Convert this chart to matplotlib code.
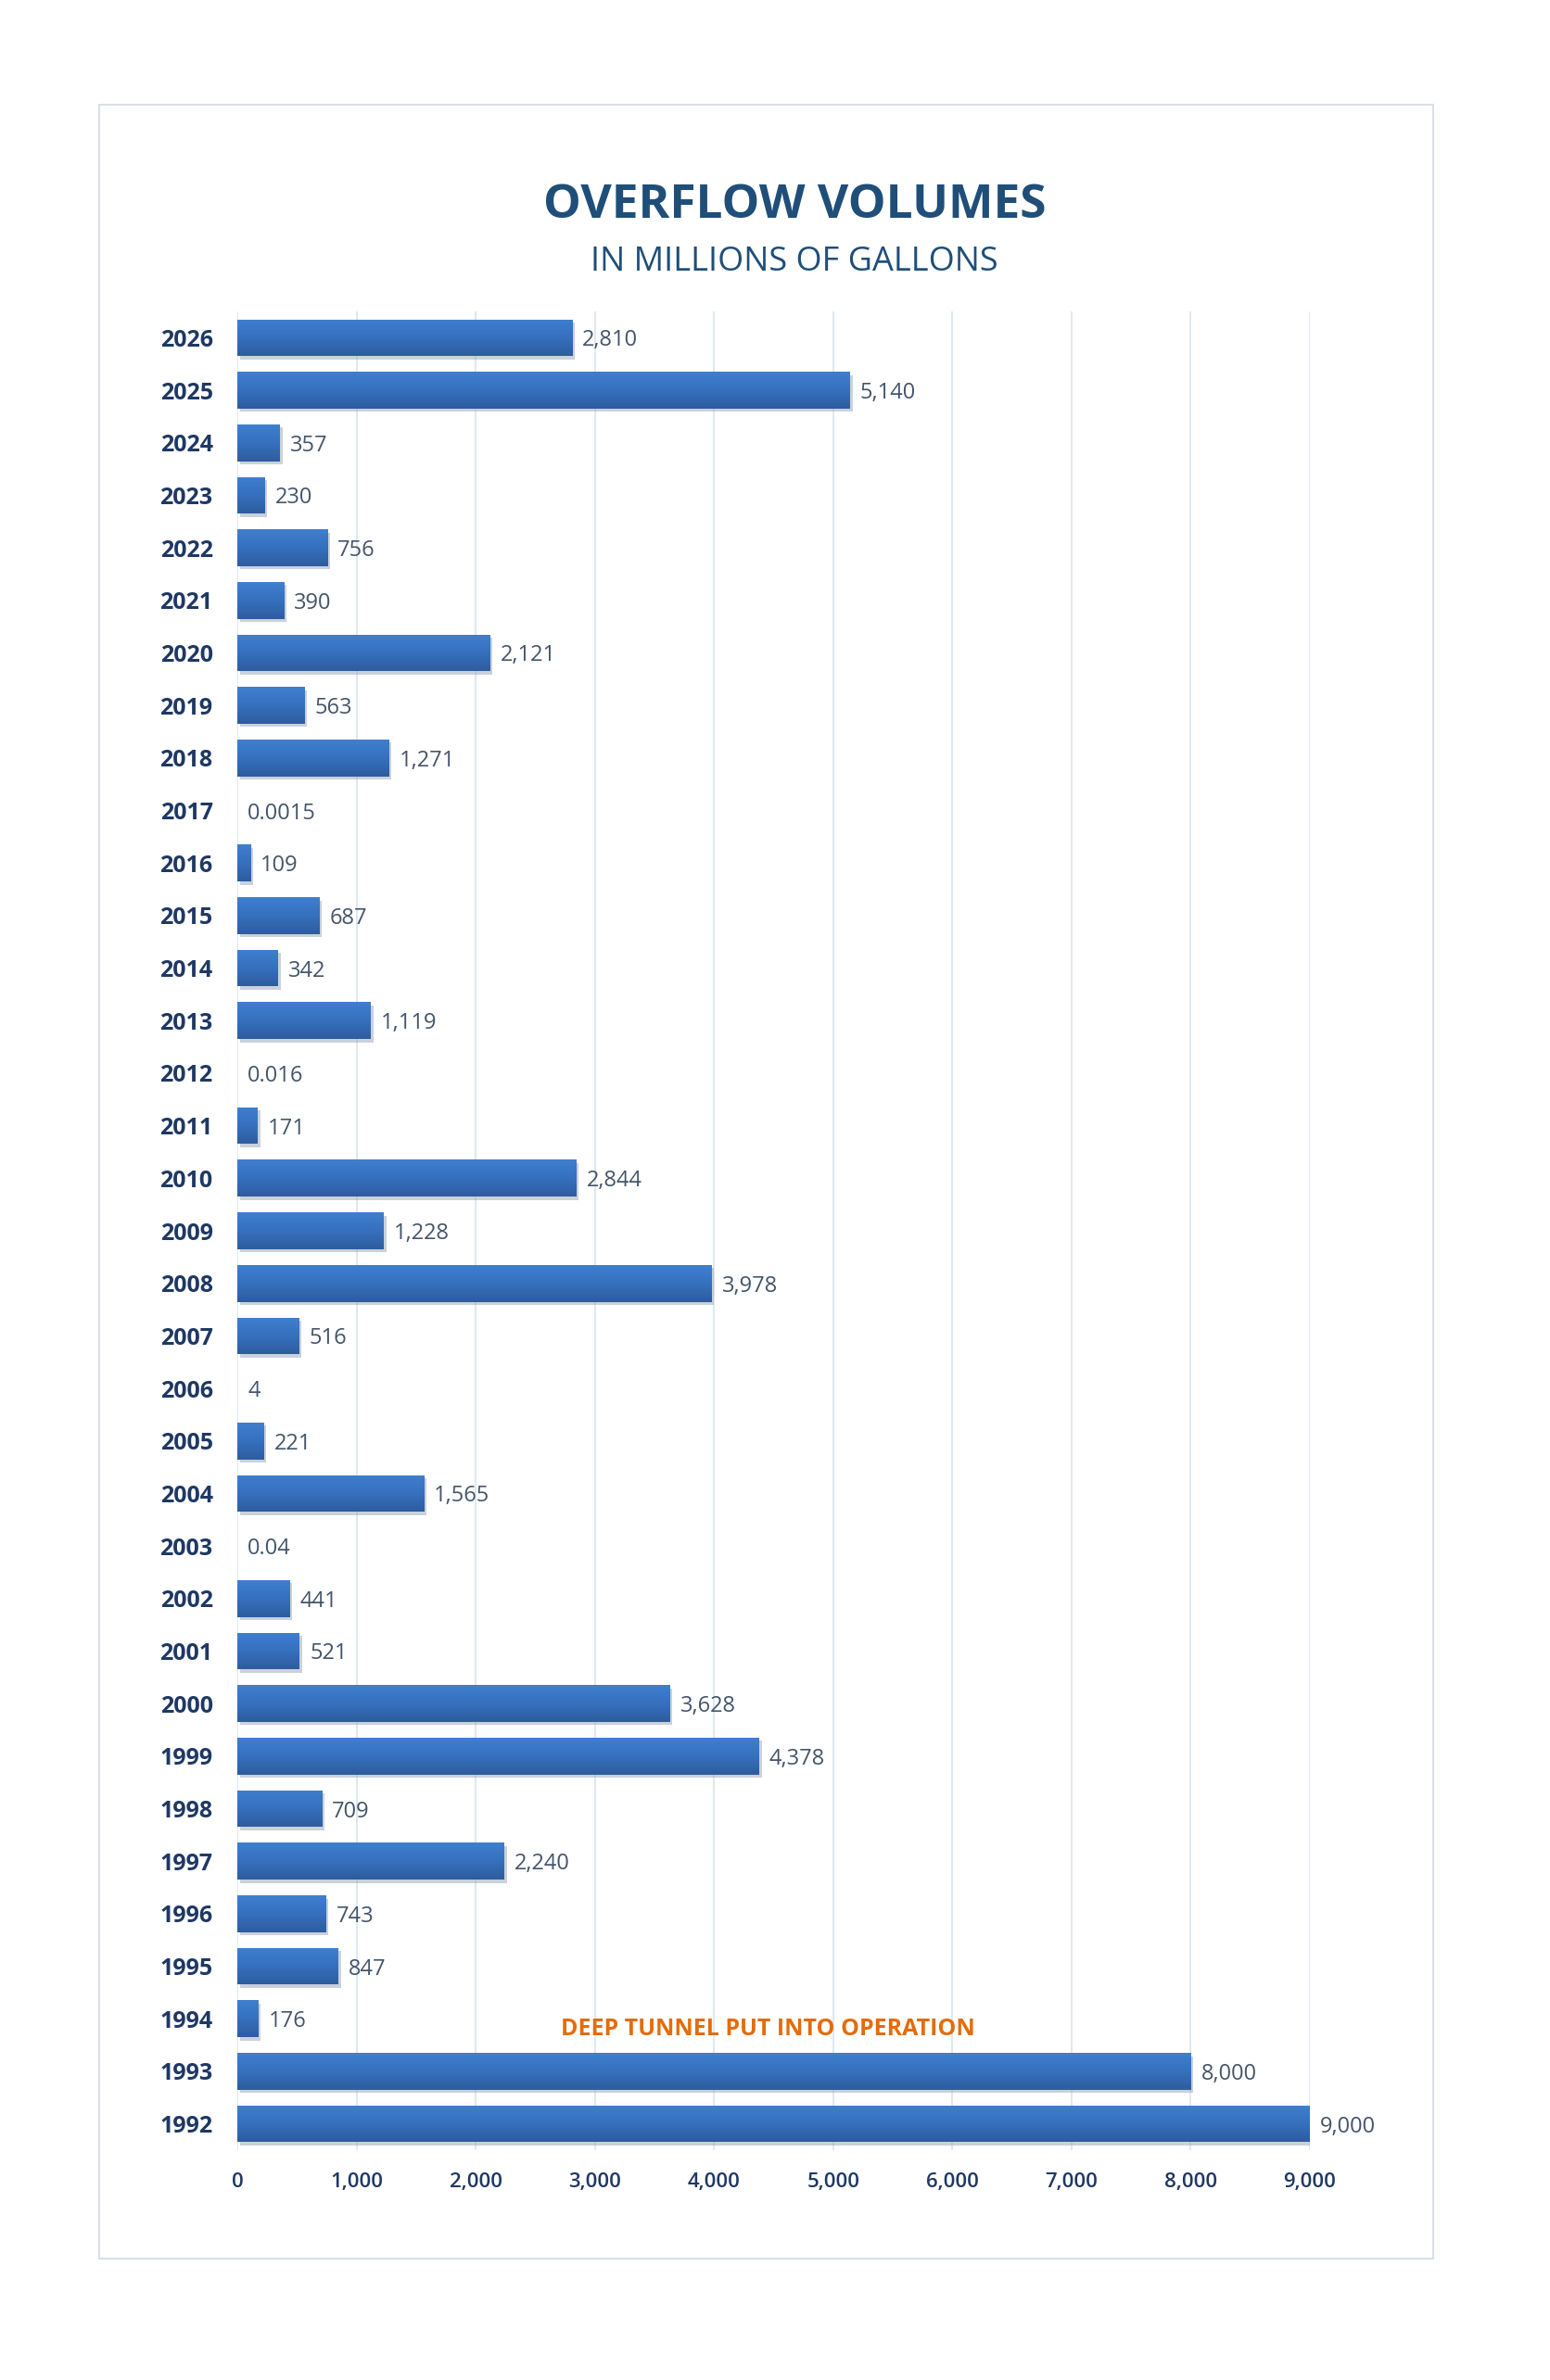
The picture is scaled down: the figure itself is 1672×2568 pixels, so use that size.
import matplotlib
matplotlib.use("Agg")
import matplotlib.pyplot as plt
import numpy as np
from matplotlib.colors import LinearSegmentedColormap
from matplotlib.patches import Rectangle
from matplotlib import patheffects as pe

plt.rcParams['font.family'] = ['Open Sans', 'DejaVu Sans']

years = [2026, 2025, 2024, 2023, 2022, 2021, 2020, 2019, 2018, 2017, 2016, 2015,
         2014, 2013, 2012, 2011, 2010, 2009, 2008, 2007, 2006, 2005, 2004, 2003,
         2002, 2001, 2000, 1999, 1998, 1997, 1996, 1995, 1994, 1993, 1992]
volumes = [2810, 5140, 357, 230, 756, 390, 2121, 563, 1271, 0.0015, 109, 687,
           342, 1119, 0.016, 171, 2844, 1228, 3978, 516, 4, 221, 1565, 0.04,
           441, 521, 3628, 4378, 709, 2240, 743, 847, 176, 8000, 9000]
x_ticks = [0, 1000, 2000, 3000, 4000, 5000, 6000, 7000, 8000, 9000]
title = "OVERFLOW VOLUMES"
subtitle = "IN MILLIONS OF GALLONS"
note = "DEEP TUNNEL PUT INTO OPERATION"

W, H = 1672, 2568
fig = plt.figure(figsize=(W / 100, H / 100), dpi=100)
fig.patch.set_facecolor('white')

# outer frame
fig.patches.append(Rectangle((107 / W, 1 - 2437 / H), (1546 - 107) / W, (2437 - 113) / H,
                             transform=fig.transFigure, facecolor='none',
                             edgecolor='#D9E0E8', linewidth=1.5, zorder=-1))

ax = fig.add_axes([256 / W, 1 - 2320 / H, (1413 - 256) / W, (2320 - 336) / H])
ax.set_facecolor('none')
ax.set_xlim(0, 9000)
ax.set_ylim(len(years) - 0.5, -0.5)

ypos = np.arange(len(years))
bh = 0.7
bars = ax.barh(ypos, volumes, height=bh, color='#3569B5', zorder=3, linewidth=0)

cmap = LinearSegmentedColormap.from_list('bar', ['#3F7FCF', '#3670BE', '#2E5C9E'])
grad = np.linspace(0, 1, 64).reshape(-1, 1)
px_per_unit = (1413 - 256) / 9000.0
for b, v, y in zip(bars, volumes, ypos):
    if v * px_per_unit < 1:
        b.set_visible(False)  # thinner than one pixel: invisible, as in the original
        continue
    b.set_path_effects([pe.SimplePatchShadow(offset=(2, -2.5), shadow_rgbFace='#8A9BB0', alpha=0.45),
                        pe.Normal()])
    im = ax.imshow(grad, cmap=cmap, aspect='auto', origin='upper',
                   extent=[0, v, y + bh / 2, y - bh / 2], zorder=4, interpolation='bicubic')
    im.set_clip_path(b)

for v, y in zip(volumes, ypos):
    lab = f"{v:,.0f}" if v >= 1 else f"{v:g}"
    ax.annotate(lab, xy=(v, y), xytext=(8, 0), textcoords='offset points',
                ha='left', va='center_baseline', fontsize=17, color='#44546A', zorder=5)

ax.set_xlim(0, 9000)
ax.set_ylim(len(years) - 0.5, -0.5)
ax.set_xticks(x_ticks)
ax.set_xticklabels([f"{t:,}" for t in x_ticks], fontsize=16, fontweight='semibold', color='#1F3864')
ax.set_yticks(ypos)
ax.set_yticklabels([str(y) for y in years], fontsize=18, fontweight='bold', color='#1F3864')
ax.tick_params(axis='both', length=0)
ax.tick_params(axis='y', pad=19)
ax.tick_params(axis='x', pad=17)
ax.grid(axis='x', color='#D6E2EC', linewidth=1.1, zorder=0)
ax.set_axisbelow(True)
for s in ax.spines.values():
    s.set_visible(False)

fig.text(857 / W, 1 - 222 / H, title, ha='center', va='center', fontsize=37,
         fontweight='bold', color='#1F4E79')
fig.text(857 / W, 1 - 283 / H, subtitle, ha='center', va='center', fontsize=26,
         color='#1F4E79')
fig.text(828 / W, 1 - 2190 / H, note, ha='center', va='center', fontsize=18,
         fontweight='bold', color='#E46C0A')

fig.savefig('out.png', dpi=100, facecolor='white')
